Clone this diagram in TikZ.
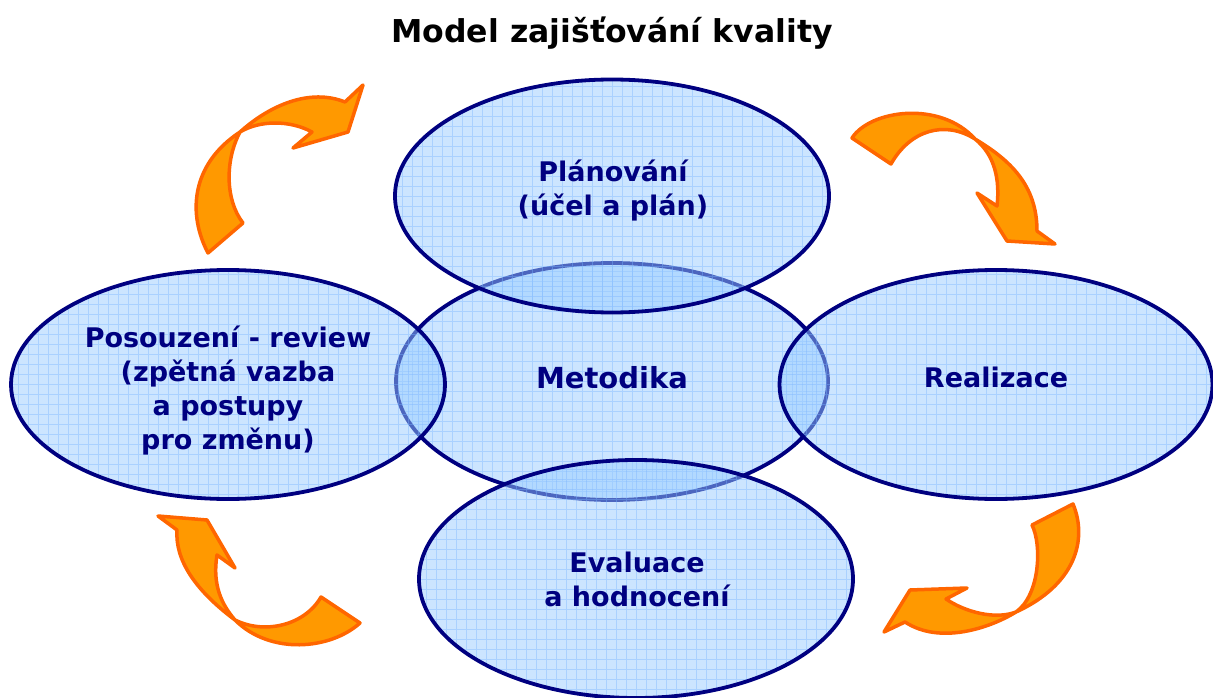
\documentclass[tikz,border=0pt]{standalone}
\usepackage{fontspec}
\setmainfont{DejaVu Sans}
\usetikzlibrary{shapes.geometric}
\definecolor{navy}{RGB}{0,0,128}
\definecolor{ellfill}{RGB}{153,204,255}
\definecolor{gridc}{RGB}{120,180,255}
\definecolor{arrfill}{RGB}{255,153,0}
\definecolor{arrline}{RGB}{255,102,0}
\begin{document}
\begin{tikzpicture}[x=1pt,y=-1pt,
  blob/.style={ellipse, inner sep=0pt, draw=navy, line width=3.8pt,
    fill=ellfill, fill opacity=0.5,
    path picture={\draw[gridc, line width=0.9pt, draw opacity=0.4] (-275,-175) grid[step=10pt] (275,175);}},
  lbl/.style={text=navy, font=\fontsize{27}{34}\selectfont\bfseries, align=center},
  ribbon/.style={fill=arrfill, draw=arrline, line width=3.5pt, line join=round}]
\useasboundingbox (0,0) rectangle (1213,698);

% ellipses
\node[blob, minimum width=432pt, minimum height=237pt] (met) at (612,381.5) {};
\node[blob, minimum width=434pt, minimum height=233pt] (plan) at (612,196) {};
\node[blob, minimum width=434pt, minimum height=229pt] (pos) at (228,384.5) {};
\node[blob, minimum width=433pt, minimum height=229pt] (real) at (996,384.5) {};
\node[blob, minimum width=434pt, minimum height=238pt] (eval) at (636,579) {};

% arrows
\draw[ribbon] (208,253) .. controls (188,215) and (190,165) .. (240,132)
  .. controls (270,105) and (310,88) .. (345,102) -- (363,85) -- (348,132) -- (293,148) -- (312,132)
  .. controls (290,120) and (260,120) .. (240,132)
  .. controls (225,160) and (225,200) .. (243,223) -- cycle;
\draw[ribbon] (852,138) .. controls (870,110) and (940,100) .. (975,139)
  .. controls (1010,160) and (1037,185) .. (1037,231) -- (1055,244) -- (1007,241) -- (977,193) -- (997,206)
  .. controls (1000,180) and (995,155) .. (975,139)
  .. controls (945,120) and (910,130) .. (891,164) -- cycle;
\draw[ribbon] (1073,504) .. controls (1088,540) and (1075,585) .. (1016,612)
  .. controls (990,628) and (940,645) .. (905,622) -- (884,632) -- (910,590) -- (967,588) -- (946,599)
  .. controls (965,612) and (995,620) .. (1016,612)
  .. controls (1040,595) and (1042,545) .. (1032,525) -- cycle;
\draw[ribbon] (360,623) .. controls (330,650) and (270,655) .. (235,620)
  .. controls (195,590) and (175,560) .. (177,530) -- (158,516) -- (207,520) -- (235,568) -- (217,555)
  .. controls (212,585) and (222,605) .. (235,620)
  .. controls (265,635) and (305,625) .. (321,597) -- cycle;

% texts
\node[font=\fontsize{31.5}{36}\selectfont\bfseries] (title) at (612,33) {Model zajišťování kvality};
\node[lbl] (tplan) at (613,191) {Plánování\\(účel a plán)};
\node[lbl, font=\fontsize{29}{34}\selectfont\bfseries] (tmet) at (612,378) {Metodika};
\node[lbl] (tpos) at (228,391) {Posouzení - review\\(zpětná vazba\\a postupy\\pro změnu)};
\node[lbl] (treal) at (996,377) {Realizace};
\node[lbl] (teval) at (637,579) {Evaluace\\a hodnocení};
\end{tikzpicture}
\end{document}
